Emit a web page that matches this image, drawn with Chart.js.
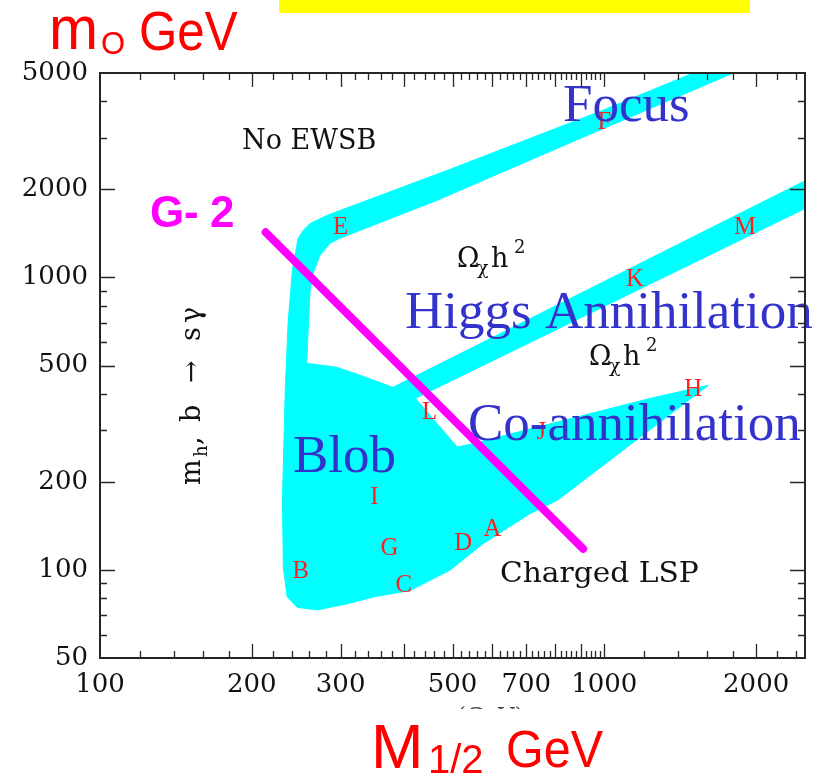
<!DOCTYPE html>
<html>
<head>
<meta charset="utf-8">
<script src="https://cdn.jsdelivr.net/npm/chart.js@4/dist/chart.umd.min.js"></script>
<style>
  html, body { margin: 0; padding: 0; background: #ffffff; }
  canvas { display: block; }
</style>
</head>
<body>
<canvas id="plane" width="823" height="776"></canvas>
<script>
// Cosmologically allowed (M1/2, m0) region in GeV, traced as one closed outline:
// focus-point strip, bulk region, Higgs-annihilation funnel and co-annihilation tail.
const allowedM12 = [246, 253, 261, 282, 495, 982, 1502, 1803, 917, 466, 299, 286, 273, 265, 261,
                    259, 257, 295, 328, 381, 2500, 2500, 422, 511, 542, 1234, 1608, 807, 713, 575, 495,
                    412, 350, 313, 270, 246, 235, 231, 230, 233, 236, 241];
const allowedM0  = [1340, 1450, 1530, 1630, 2344, 3700, 5000, 5000, 3040, 1835, 1361, 1309, 1190, 1040, 904,
                    697, 509, 493, 463, 421, 2140, 1720, 386, 263, 269, 386, 428, 173, 156, 123, 100,
                    85, 81, 77, 73, 74.5, 81, 102, 173, 411, 697, 1084];

// g-2 boundary
const g2M12 = [213, 908];
const g2M0  = [1427, 118];

// Benchmark points
const benchNames = ['A', 'B', 'C', 'D', 'E', 'F', 'G', 'H', 'I', 'J', 'K', 'L', 'M'];
const benchM12   = [600, 250, 400, 525, 300, 1000, 375, 1500, 350, 750, 1150, 450, 1900];
const benchM0    = [140, 100, 90, 125, 1500, 3450, 120, 419, 180, 300, 1000, 350, 1500];

// Labelled axis values
const xTickLabels = [100, 200, 300, 500, 700, 1000, 2000];
const yTickLabels = [50, 100, 200, 500, 1000, 2000, 5000];

const toPoints = (xs, ys) => xs.map((x, i) => ({ x: x, y: ys[i] }));

const TYPE = '"DejaVu Serif", "Liberation Serif", serif';
const SERIF = '"Liberation Serif", "Times New Roman", serif';
const SANS = '"Liberation Sans", Arial, sans-serif';
const BLUE = '#3333cc';
const INK = '#111111';

function txt(ctx, s, x, y, font, color, sx, align) {
  ctx.save();
  ctx.font = font;
  ctx.fillStyle = color;
  ctx.textAlign = align || 'left';
  ctx.textBaseline = 'alphabetic';
  ctx.translate(x, y);
  if (sx) ctx.scale(sx, 1);
  ctx.fillText(s, 0, 0);
  ctx.restore();
}

// inward tick positions on the log axes
function rangeStep(a, b, s) { const r = []; for (let v = a; v <= b + 1e-9; v += s) r.push(v); return r; }
const xMajor = rangeStep(200, 1000, 100).concat([2000]);
const xMinor = rangeStep(120, 980, 20).filter(v => v % 100 !== 0)
  .concat([1200, 1400, 1600, 1800, 2200, 2400]);
const yMajor = [100, 200, 500, 1000, 2000];
const yMinor = [60, 70, 80, 90, 300, 400, 600, 700, 800, 900, 3000, 4000];

const decor = {
  id: 'decor',
  afterDatasetsDraw(chart) {
    const ctx = chart.ctx;
    const a = chart.chartArea;
    const xs = chart.scales.x, ys = chart.scales.y;

    // benchmark letters
    const meta = chart.getDatasetMeta(2);
    meta.data.forEach((pt, i) => {
      txt(ctx, benchNames[i], pt.x, pt.y + 8.5, '26px ' + SERIF, '#ff1e1e', 0.95, 'center');
    });

    // region names
    const big = '53px ' + SERIF;
    txt(ctx, 'Focus', 563, 121, big, BLUE);
    txt(ctx, 'Higgs Annihilation', 405, 328, big, BLUE);
    txt(ctx, 'Co-annihilation', 468, 440, big, BLUE);
    txt(ctx, 'Blob', 293, 472, big, BLUE);

    // constraint labels
    txt(ctx, 'No EWSB', 242, 149, '27px ' + TYPE, INK);
    txt(ctx, 'Charged LSP', 500, 582, '28px ' + TYPE, INK, 1.06);
    [[457, 267], [589, 365]].forEach(([ox, oy]) => {
      txt(ctx, '\u03A9', ox, oy, '27px ' + TYPE, INK);
      txt(ctx, '\u03C7', ox + 20, oy + 7, '19px ' + TYPE, INK);
      txt(ctx, 'h', ox + 34, oy, '27px ' + TYPE, INK);
      txt(ctx, '2', ox + 57, oy - 14, '18px ' + TYPE, INK);
    });

    // vertical label on the left
    ctx.save();
    ctx.translate(200, 485);
    ctx.rotate(-Math.PI / 2);
    txt(ctx, 'm', 0, 0, '27px ' + TYPE, INK);
    txt(ctx, 'h', 28, 7, '18px ' + TYPE, INK);
    txt(ctx, ',', 40, 0, '27px ' + TYPE, INK);
    txt(ctx, 'b', 63, 0, '27px ' + TYPE, INK);
    txt(ctx, '\u2192', 102, 0, '27px ' + TYPE, INK);
    txt(ctx, 's', 144, 0, '27px ' + TYPE, INK);
    txt(ctx, '\u03B3', 162, 0, '27px ' + TYPE, INK);
    ctx.restore();

    // G-2 label
    const gf = 'bold 44px ' + SANS;
    txt(ctx, 'G', 150, 227, gf, '#ff00ff');
    txt(ctx, '-', 184, 227, gf, '#ff00ff');
    txt(ctx, '2', 210, 227, gf, '#ff00ff');

    // frame with inward ticks on all four sides
    ctx.save();
    ctx.strokeStyle = '#262626';
    ctx.lineWidth = 1.3;
    ctx.beginPath();
    const tick = (vals, len, horiz) => {
      vals.forEach(v => {
        if (horiz) {
          const px = Math.round(xs.getPixelForValue(v)) + 0.5;
          ctx.moveTo(px, a.bottom); ctx.lineTo(px, a.bottom - len);
          ctx.moveTo(px, a.top); ctx.lineTo(px, a.top + len);
        } else {
          const py = Math.round(ys.getPixelForValue(v)) + 0.5;
          ctx.moveTo(a.left, py); ctx.lineTo(a.left + len, py);
          ctx.moveTo(a.right, py); ctx.lineTo(a.right - len, py);
        }
      });
    };
    tick(xMajor, 14, true);
    tick(xMinor, 7, true);
    tick(yMajor, 15, false);
    tick(yMinor, 7, false);
    ctx.stroke();
    ctx.lineWidth = 2;
    ctx.strokeRect(a.left, a.top, a.right - a.left, a.bottom - a.top);
    ctx.restore();
  },
  afterDraw(chart) {
    const ctx = chart.ctx;
    ctx.save();
    ctx.fillStyle = '#ffff00';
    ctx.fillRect(279, 0, 471, 13);
    ctx.restore();

    // original axis unit, mostly hidden under the title strip
    ctx.save();
    ctx.beginPath();
    ctx.rect(440, 703, 100, 6);
    ctx.clip();
    txt(ctx, '(GeV)', 457, 723, '23px ' + TYPE, '#444');
    ctx.restore();

    // axis titles
    txt(ctx, 'm', 49, 49, '62px ' + SANS, '#ff0000', 0.95);
    txt(ctx, 'O', 101, 54, '31px ' + SANS, '#ff0000');
    txt(ctx, 'GeV', 139, 50, '56px ' + SANS, '#ff0000', 0.88);
    txt(ctx, 'M', 371, 768, '63px ' + SANS, '#ff0000');
    txt(ctx, '1/2', 428, 773, '40px ' + SANS, '#ff0000');
    txt(ctx, 'GeV', 506, 767, '51px ' + SANS, '#ff0000', 0.95);
  }
};

new Chart(document.getElementById('plane'), {
  type: 'scatter',
  data: {
    datasets: [
      {
        label: 'allowed',
        data: toPoints(allowedM12, allowedM0),
        showLine: true,
        fill: 'shape',
        backgroundColor: '#00ffff',
        borderColor: '#00ffff',
        borderWidth: 1,
        pointRadius: 0,
        tension: 0,
        order: 3
      },
      {
        label: 'g-2',
        data: toPoints(g2M12, g2M0),
        showLine: true,
        fill: false,
        borderColor: '#ff00ff',
        borderWidth: 8,
        borderCapStyle: 'round',
        pointRadius: 0,
        order: 2
      },
      {
        label: 'benchmarks',
        data: toPoints(benchM12, benchM0),
        showLine: false,
        pointRadius: 0,
        order: 1
      }
    ]
  },
  options: {
    responsive: false,
    animation: false,
    devicePixelRatio: 1,
    layout: { padding: { top: 73, right: 18, left: 0, bottom: 0 } },
    plugins: { legend: { display: false }, tooltip: { enabled: false } },
    scales: {
      x: {
        type: 'logarithmic',
        min: 100,
        max: 2500,
        grid: { display: false, drawTicks: false },
        border: { display: false },
        afterBuildTicks: s => { s.ticks = xTickLabels.map(v => ({ value: v })); },
        afterFit: s => { s.height = 118; },
        ticks: {
          autoSkip: false,
          maxRotation: 0,
          padding: 12,
          color: INK,
          font: { family: TYPE, size: 26 },
          callback: v => String(v)
        }
      },
      y: {
        type: 'logarithmic',
        min: 50,
        max: 5000,
        grid: { display: false, drawTicks: false },
        border: { display: false },
        afterBuildTicks: s => { s.ticks = yTickLabels.map(v => ({ value: v })); },
        afterFit: s => { s.width = 100; },
        ticks: {
          autoSkip: false,
          padding: 12,
          color: INK,
          font: { family: TYPE, size: 26 },
          callback: v => String(v)
        }
      }
    }
  },
  plugins: [decor]
});
</script>
</body>
</html>
